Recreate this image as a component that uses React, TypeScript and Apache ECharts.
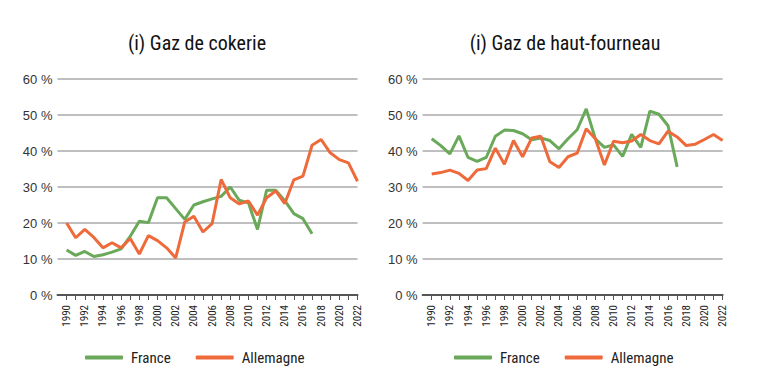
import React, { useEffect, useRef } from "react";
import * as echarts from "echarts";

const years = [
  1990, 1991, 1992, 1993, 1994, 1995, 1996, 1997, 1998, 1999, 2000, 2001, 2002, 2003, 2004, 2005, 2006,
  2007, 2008, 2009, 2010, 2011, 2012, 2013, 2014, 2015, 2016, 2017, 2018, 2019, 2020, 2021, 2022,
];
const axisYears = ["1989", ...years.map(String)];
const yTicks = [0, 10, 20, 30, 40, 50, 60];

const titles = ["(i) Gaz de cokerie", "(i) Gaz de haut-fourneau"];
const seriesNames = ["France", "Allemagne"];

// Gaz de cokerie (1990-2017 for France, 1990-2022 for Allemagne)
const cokerieFrance = [
  12.5, 11.0, 12.1, 10.7, 11.2, 11.9, 12.8, 16.3, 20.5, 20.1, 27.0, 27.0, 24.0, 21.0, 25.0, 25.9, 26.7,
  27.4, 30.0, 26.3, 25.6, 18.2, 29.1, 29.1, 26.2, 22.6, 21.2, 17.0,
];
const cokerieAllemagne = [
  20.0, 15.9, 18.2, 16.0, 13.1, 14.5, 13.1, 15.7, 11.4, 16.5, 15.1, 13.1, 10.3, 20.3, 21.9, 17.5, 19.8,
  32.1, 27.0, 25.3, 26.1, 22.2, 27.0, 28.9, 25.4, 32.0, 33.0, 41.6, 43.2, 39.5, 37.6, 36.7, 31.6,
];

// Gaz de haut-fourneau
const hfFrance = [
  43.4, 41.5, 39.2, 44.2, 38.2, 37.1, 38.2, 44.1, 45.8, 45.7, 44.8, 43.1, 43.6, 42.9, 40.6, 43.4, 45.9,
  51.7, 43.4, 41.0, 41.7, 38.5, 44.6, 41.0, 51.1, 50.2, 47.0, 35.6,
];
const hfAllemagne = [
  33.6, 34.0, 34.7, 33.8, 31.8, 34.7, 35.1, 40.8, 36.3, 42.9, 38.4, 43.6, 44.1, 37.0, 35.4, 38.4, 39.4,
  46.2, 43.4, 36.1, 42.7, 42.3, 42.8, 44.6, 42.9, 42.0, 45.5, 43.9, 41.5, 41.9, 43.2, 44.6, 42.9,
];

const GREEN = "#6aa85a";
const ORANGE = "#ee6a3b";
const FONT = "'Liberation Sans Narrow', 'Roboto Condensed', 'Liberation Sans', Arial, sans-serif";
const FONT_Y = "'Liberation Sans', Arial, sans-serif";

const toPairs = (vals: number[]) => vals.map((v, i) => [String(years[i]), v]);

export default function App() {
  const ref = useRef<HTMLDivElement>(null);
  useEffect(() => {
    if (!ref.current) return;
    const chart = echarts.init(ref.current, null, { renderer: "svg" });
    const grids = [
      { left: 57.5, top: 79, width: 300, height: 216 },
      { left: 422.6, top: 79, width: 300, height: 216 },
    ];
    const xAxis = grids.map((_, gi) => ({
      type: "category" as const,
      gridIndex: gi,
      data: axisYears,
      boundaryGap: false,
      axisLine: { lineStyle: { color: "#555", width: 2 } },
      axisTick: {
        interval: (index: number) => index > 0,
        length: 5,
        lineStyle: { color: "#555", width: 1 },
      },
      axisLabel: {
        interval: (index: number) => index > 0 && index % 2 === 1,
        rotate: 90,
        margin: 10,
        fontSize: 11,
        color: "#222",
        fontFamily: FONT,
      },
      splitLine: { show: false },
    }));
    const yAxis = grids.map((_, gi) => ({
      type: "value" as const,
      gridIndex: gi,
      min: yTicks[0],
      max: yTicks[yTicks.length - 1],
      interval: 10,
      axisLine: { show: false },
      axisTick: { show: false },
      axisLabel: {
        formatter: "{value} %",
        fontSize: 13,
        color: "#333",
        margin: 5,
        fontFamily: FONT_Y,
      },
      splitLine: { lineStyle: { color: "#aaa", width: 1.5 } },
    }));
    const mk = (name: string, data: any[], gi: number, color: string) => ({
      name,
      type: "line" as const,
      xAxisIndex: gi,
      yAxisIndex: gi,
      data,
      showSymbol: false,
      symbol: "none",
      lineStyle: { color, width: 3 },
      itemStyle: { color },
      emphasis: { disabled: true },
    });
    const legendBase = {
      data: seriesNames,
      icon: "roundRect",
      itemWidth: 38,
      itemHeight: 4,
      itemGap: 25,
      top: 345,
      textStyle: { fontSize: 15, color: "#222", fontFamily: FONT, padding: [0, 0, 0, 3] },
      selectedMode: false,
    };
    const titleStyle = { fontSize: 20, fontWeight: "normal", color: "#111", fontFamily: FONT };
    chart.setOption({
      animation: false,
      backgroundColor: "#fff",
      title: [
        { text: titles[0], left: 192, textAlign: "center", top: 28, textStyle: titleStyle },
        { text: titles[1], left: 560, textAlign: "center", top: 28, textStyle: titleStyle },
      ],
      legend: [
        { ...legendBase, left: 80 },
        { ...legendBase, left: 449 },
      ],
      grid: grids,
      xAxis,
      yAxis,
      series: [
        mk(seriesNames[0], toPairs(cokerieFrance), 0, GREEN),
        mk(seriesNames[1], toPairs(cokerieAllemagne), 0, ORANGE),
        mk(seriesNames[0], toPairs(hfFrance), 1, GREEN),
        mk(seriesNames[1], toPairs(hfAllemagne), 1, ORANGE),
      ],
    });
    return () => chart.dispose();
  }, []);
  return <div ref={ref} style={{ width: 762, height: 382, position: "absolute", left: 0, top: 0 }} />;
}
